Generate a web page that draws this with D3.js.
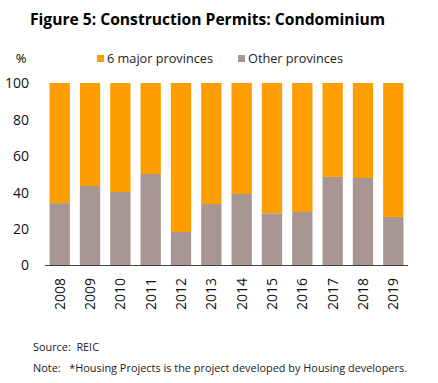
<!DOCTYPE html>
<html>
<head>
<meta charset="utf-8">
<script src="https://cdn.jsdelivr.net/npm/d3@7"></script>
<style>
  body { margin: 0; background: #fff; }
  svg { display: block; font-family: "Open Sans", "Noto Sans", sans-serif; }
  .note { white-space: pre; }
</style>
</head>
<body>
<svg id="chart" width="438" height="383"></svg>
<script>
const years = ["2008", "2009", "2010", "2011", "2012", "2013", "2014", "2015", "2016", "2017", "2018", "2019"];
const otherProvinces = [34, 43.4, 40.1, 50, 18.1, 33.5, 39, 28.4, 29.1, 48.4, 47.8, 26.4];
const majorProvinces = otherProvinces.map(v => 100 - v);
const seriesNames = ["6 major provinces", "Other provinces"];
const yTicks = [0, 20, 40, 60, 80, 100];

const svg = d3.select("#chart");
const colors = { major: "#ff9e00", other: "#a79692" };

const x = d3.scaleBand().domain(years).range([45, 408]).paddingInner(0.33).paddingOuter(0.15);
const y = d3.scaleLinear().domain([0, 100]).range([265, 83]);

// title
svg.append("text")
    .attr("x", 30).attr("y", 25)
    .attr("font-size", 16).attr("font-weight", "bold")
    .attr("textLength", 355).attr("lengthAdjust", "spacingAndGlyphs")
    .text("Figure 5: Construction Permits: Condominium");

svg.append("text")
    .attr("x", 21).attr("y", 63)
    .attr("text-anchor", "middle").attr("font-size", 13)
    .text("%");

// legend
const legend = [
    { name: seriesNames[0], color: colors.major, x: 97, w: 106 },
    { name: seriesNames[1], color: colors.other, x: 238, w: 95 }
];
legend.forEach(d => {
    svg.append("rect").attr("x", d.x).attr("y", 55).attr("width", 7).attr("height", 7).attr("fill", d.color);
    svg.append("text")
        .attr("x", d.x + 10).attr("y", 63)
        .attr("font-size", 12.5).attr("fill", "#222")
        .attr("textLength", d.w).attr("lengthAdjust", "spacingAndGlyphs")
        .text(d.name);
});

// bars
const data = years.map((yr, i) => ({ yr, other: otherProvinces[i], major: majorProvinces[i] }));

svg.append("g").selectAll("rect.other")
    .data(data).join("rect")
    .attr("x", d => x(d.yr)).attr("width", x.bandwidth())
    .attr("y", d => y(d.other)).attr("height", d => y(0) - y(d.other))
    .attr("fill", colors.other);

svg.append("g").selectAll("rect.major")
    .data(data).join("rect")
    .attr("x", d => x(d.yr)).attr("width", x.bandwidth())
    .attr("y", d => y(d.other + d.major)).attr("height", d => y(d.other) - y(d.other + d.major))
    .attr("fill", colors.major);

// y axis
const yAxis = svg.append("g")
    .attr("transform", "translate(29,0)")
    .call(d3.axisLeft(y).tickValues(yTicks).tickSize(0).tickPadding(0));
yAxis.select(".domain").remove();
yAxis.selectAll("text").attr("font-size", 14).attr("font-family", "\"Open Sans\", sans-serif").attr("fill", "#111").attr("dy", "0.35em");

// x axis
const xAxis = svg.append("g")
    .attr("transform", "translate(0,265)")
    .call(d3.axisBottom(x).tickSize(0).tickSizeOuter(0));
xAxis.select(".domain").attr("stroke", "#444").attr("d", "M45,0.5H408");
xAxis.selectAll("text")
    .attr("font-size", 14).attr("font-family", "\"Open Sans\", sans-serif").attr("fill", "#111")
    .attr("transform", "rotate(-90)")
    .attr("text-anchor", "end")
    .attr("x", -13).attr("y", 0).attr("dy", "0.35em");

// footnotes
svg.append("text").attr("class", "note").attr("x", 33).attr("y", 351).attr("font-size", 10.5).attr("fill", "#222")
    .attr("textLength", 66).attr("lengthAdjust", "spacingAndGlyphs")
    .text("Source:  REIC");
svg.append("text").attr("class", "note").attr("x", 33).attr("y", 372).attr("font-size", 10.5).attr("fill", "#222")
    .attr("textLength", 374).attr("lengthAdjust", "spacingAndGlyphs")
    .text("Note:   *Housing Projects is the project developed by Housing developers.");
</script>
</body>
</html>
